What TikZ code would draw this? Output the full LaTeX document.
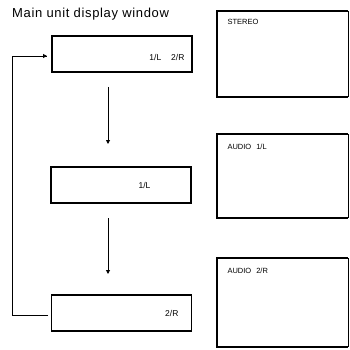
\documentclass[tikz,border=0pt]{standalone}
\usepackage{fontspec}
\setmainfont{Liberation Sans}
\newfontfamily\widesans[LetterSpace=5]{Liberation Sans}
\usetikzlibrary{arrows.meta}
\begin{document}
\begin{tikzpicture}[x=1pt,y=-1pt,
  unitbox/.style={draw, line width=1.2pt, minimum width=140pt, minimum height=36pt, inner sep=0pt},
  lbl/.style={font=\fontsize{8.5}{9}\selectfont, anchor=base east},
  dlbl/.style={font=\fontsize{7.5}{8}\selectfont, anchor=base west},
  flow/.style={line width=0.9pt, -{Triangle[length=4pt,width=4pt]}},
  loop/.style={line width=0.9pt}]
\useasboundingbox (0,0) rectangle (349,350);
\node[font=\widesans\fontsize{13}{14}\selectfont, anchor=base west, inner sep=0pt] (title) at (12,18) {Main unit display window};
% main unit boxes
\node[unitbox] (b1) at (122,54) {};
\node[unitbox] (b2) at (121,185) {};
\node[unitbox] (b3) at (121.5,313) {};
\node[lbl] (t1) at (188,61) {1/L\hspace{10pt}2/R};
\node[lbl] (t2) at (154,188) {1/L};
\node[lbl] (t3) at (182,316) {2/R};
% vertical arrows
\coordinate (a1s) at (108,87);
\coordinate (a1e) at (108,144);
\coordinate (a2s) at (108,218);
\coordinate (a2e) at (108,274);
\draw[flow] (a1s) -- (a1e);
\draw[flow] (a2s) -- (a2e);
% loop back
\coordinate (l1) at (12,315);
\coordinate (l2) at (12,56);
\coordinate (le) at (47,56);
\coordinate (ls) at (48,315);
\draw[loop] (ls) -- (l1) -- (l2) -- (le);
\draw[flow] (l2) -- (le);
% display windows
\foreach \n/\ya/\yb in {d1/11/97, d2/134/218, d3/258/347}{
  \draw[line width=2.6pt] (348,\ya) -- (217,\ya) -- (217,\yb) -- (348,\yb);
  \draw[line width=0.8pt] (348,\ya) -- (348,\yb);
}
\node[dlbl] (s1) at (224,25) {STEREO};
\node[dlbl] (s2) at (224,149) {AUDIO\hspace{5pt}1/L};
\node[dlbl] (s3) at (224,273) {AUDIO\hspace{5pt}2/R};
\end{tikzpicture}
\end{document}
